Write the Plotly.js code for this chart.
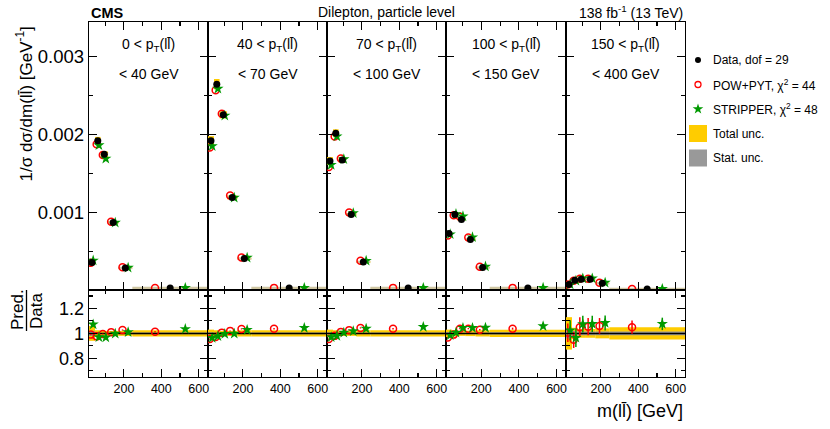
<!DOCTYPE html>
<html><head><meta charset="utf-8">
<script src="https://cdn.plot.ly/plotly-3.0.1.min.js"></script>
<style>body{margin:0;background:#fff}#plot{width:830px;height:429px}</style>
</head><body><div id="plot"></div>
<script>
// ---------------- data ----------------
const binEdges = [13, 45, 75, 115, 170, 245, 650];          // m(ll) bin edges [GeV]
const ptLow = ['0', '40', '70', '100', '150'];
const ptHigh = ['40', '70', '100', '150', '400'];
const xTickVals = [200, 400, 600];
const xMinorVals = [100, 300, 500];
const yTopTickVals = [0.001, 0.002, 0.003];
const yTopTickText = ['0.001', '0.002', '0.003'];
const yTopMinor = [0.0005, 0.0015, 0.0025];
const yRatioTickVals = [0.8, 1, 1.2];
const yRatioTickText = ['0.8', '1', '1.2'];
const yRatioMinor = [0.7, 0.9, 1.1, 1.3];

// normalised cross section per pT(ll) panel [GeV^-1]
const dataP1 = [0.000364, 0.001923, 0.001749, 0.000877, 0.000295, 0.0000385];
const dataP2 = [0.001923, 0.002646, 0.002253, 0.001197, 0.000415, 0.0000385];
const dataP3 = [0.001663, 0.002018, 0.001676, 0.000979, 0.000372, 0.0000385];
const dataP4 = [0.000736, 0.000979, 0.000915, 0.000659, 0.000300, 0.0000385];
const dataP5 = [0.000082, 0.000137, 0.000150, 0.000150, 0.0000987, 0.0000256];

// Pred./Data ratios
const powRatio = [
  [0.990, 0.976, 0.995, 1.010, 1.027, 1.013],
  [0.954, 0.970, 1.006, 1.020, 1.036, 1.038],
  [0.954, 0.980, 1.012, 1.026, 1.044, 1.038],
  [0.966, 0.990, 1.038, 1.038, 1.030, 1.038],
  [1.005, 0.948, 1.050, 1.054, 1.060, 1.050]];
const stripRatio = [
  [1.072, 0.970, 0.968, 0.998, 1.010, 1.035],
  [0.964, 0.978, 0.996, 0.998, 1.028, 1.044],
  [0.970, 0.980, 1.006, 1.018, 1.038, 1.052],
  [0.986, 1.006, 1.044, 1.044, 1.046, 1.058],
  [1.025, 0.965, 1.075, 1.076, 1.084, 1.076]];
// prediction uncertainties (relative)
const powUnc = [
  [0.005, 0.004, 0.004, 0.004, 0.005, 0.006],
  [0.005, 0.004, 0.004, 0.004, 0.005, 0.006],
  [0.005, 0.004, 0.004, 0.004, 0.005, 0.006],
  [0.006, 0.005, 0.005, 0.005, 0.006, 0.008],
  [0.075, 0.065, 0.080, 0.070, 0.063, 0.053]];
const stripUnc = [
  [0.005, 0.004, 0.004, 0.004, 0.005, 0.006],
  [0.005, 0.004, 0.004, 0.004, 0.005, 0.006],
  [0.005, 0.004, 0.004, 0.004, 0.005, 0.006],
  [0.006, 0.005, 0.005, 0.005, 0.006, 0.008],
  [0.080, 0.075, 0.067, 0.065, 0.060, 0.050]];
// data uncertainties (relative)
const totUnc = [
  [0.060, 0.025, 0.020, 0.020, 0.020, 0.025],
  [0.030, 0.025, 0.020, 0.020, 0.025, 0.025],
  [0.030, 0.025, 0.020, 0.020, 0.025, 0.025],
  [0.030, 0.025, 0.020, 0.022, 0.025, 0.030],
  [0.130, 0.045, 0.035, 0.035, 0.040, 0.050]];
const statUnc = [
  [0.020, 0.006, 0.005, 0.005, 0.006, 0.008],
  [0.008, 0.005, 0.005, 0.005, 0.006, 0.008],
  [0.008, 0.005, 0.005, 0.005, 0.006, 0.008],
  [0.010, 0.006, 0.006, 0.006, 0.007, 0.010],
  [0.040, 0.020, 0.015, 0.015, 0.015, 0.015]];

const legendLabels = ['Data, dof = 29', 'POW+PYT, \u03C7<sup>2</sup> = 44', 'STRIPPER, \u03C7<sup>2</sup> = 48', 'Total unc.', 'Stat. unc.'];

// ---------------- drawing ----------------
const dataPanels = [dataP1, dataP2, dataP3, dataP4, dataP5];
const W = 830, H = 429;
const FONT = 'Liberation Sans, Arial, Helvetica, sans-serif';
const RED = '#ff0000', GREEN = '#009900', YEL = '#ffcc00', GREY = '#999999', TAN = '#cfc6a2';
const LL = 'll\u0304';
const colPx = [89, 208, 327, 446, 566, 685];
const topDom = [1 - 290 / H, 1 - 22 / H];
const ratDom = [1 - 377 / H, 1 - 290 / H];
const id = n => (n === 1 ? '' : String(n));

const centers = binEdges.slice(0, -1).map((e, i) => (e + binEdges[i + 1]) / 2);
const widths = binEdges.slice(0, -1).map((e, i) => binEdges[i + 1] - e);
const xPow = centers.map((c, i) => c - 0.2 * widths[i]);
const xStrip = centers.map((c, i) => c + 0.2 * widths[i]);

const layout = {
  width: W, height: H, margin: {l: 0, r: 0, t: 0, b: 0},
  paper_bgcolor: '#fff', plot_bgcolor: 'rgba(0,0,0,0)',
  showlegend: false, hovermode: false,
  font: {family: FONT, color: '#000'},
  shapes: [], annotations: []
};
const traces = [];
const baseAx = {showline: true, linecolor: '#000', linewidth: 1.3, mirror: 'ticks', ticks: 'inside',
  tickcolor: '#000', tickwidth: 1.1, showgrid: false, zeroline: false, fixedrange: true};

for (let p = 0; p < 5; p++) {
  const kt = p + 1, kr = p + 6;
  const dom = [colPx[p] / W, colPx[p + 1] / W];
  layout['xaxis' + id(kt)] = Object.assign({}, baseAx, {domain: dom, range: [binEdges[0], binEdges[6]],
    anchor: 'y' + id(kt), tickmode: 'array', tickvals: xTickVals, ticklen: 8, showticklabels: false,
    minor: {tickmode: 'array', tickvals: xMinorVals, ticklen: 4, ticks: 'inside', tickcolor: '#000'}});
  layout['yaxis' + id(kt)] = Object.assign({}, baseAx, {domain: topDom, range: [0.0000128, 0.003441],
    anchor: 'x' + id(kt), tickmode: 'array', tickvals: yTopTickVals, ticktext: yTopTickText, ticklen: 8,
    showticklabels: p === 0, tickfont: {size: 18.5, family: FONT},
    minor: {tickmode: 'array', tickvals: yTopMinor, ticklen: 4, ticks: 'inside', tickcolor: '#000'}});
  layout['xaxis' + kr] = Object.assign({}, baseAx, {domain: dom, range: [binEdges[0], binEdges[6]],
    anchor: 'y' + kr, tickmode: 'array', tickvals: xTickVals, ticklen: 8, showticklabels: true,
    tickfont: {size: 12.5, family: FONT},
    minor: {tickmode: 'array', tickvals: xMinorVals, ticklen: 4, ticks: 'inside', tickcolor: '#000'}});
  layout['yaxis' + kr] = Object.assign({}, baseAx, {domain: ratDom, range: [0.65, 1.348],
    anchor: 'x' + kr, tickmode: 'array', tickvals: yRatioTickVals, ticktext: yRatioTickText, ticklen: 8,
    showticklabels: p === 0, tickfont: {size: 18, family: FONT},
    minor: {tickmode: 'array', tickvals: yRatioMinor, ticklen: 4, ticks: 'inside', tickcolor: '#000'}});

  const d = dataPanels[p];
  const xt = 'x' + id(kt), yt = 'y' + id(kt), xr = 'x' + kr, yr = 'y' + kr;

  // bands
  for (let b = 0; b < 6; b++) {
    const x0 = binEdges[b], x1 = binEdges[b + 1];
    layout.shapes.push({type: 'rect', layer: 'below', xref: xt, yref: yt, x0, x1,
      y0: d[b] * (1 - totUnc[p][b]), y1: d[b] * (1 + totUnc[p][b]), fillcolor: YEL, line: {width: 0}});
    layout.shapes.push({type: 'line', layer: 'below', xref: xt, yref: yt, x0, x1,
      y0: d[b], y1: d[b], line: {color: TAN, width: 2.5}});
    layout.shapes.push({type: 'rect', layer: 'below', xref: xr, yref: yr, x0, x1,
      y0: 1 - totUnc[p][b], y1: 1 + totUnc[p][b], fillcolor: YEL, line: {width: 0}});
    layout.shapes.push({type: 'rect', layer: 'below', xref: xr, yref: yr, x0, x1,
      y0: 1 - statUnc[p][b], y1: 1 + statUnc[p][b], fillcolor: GREY, line: {width: 0}});
  }
  layout.shapes.push({type: 'line', layer: 'below', xref: xr, yref: yr, x0: binEdges[0], x1: binEdges[6],
    y0: 1, y1: 1, line: {color: '#000', width: 1.5}});

  // top traces
  traces.push({type: 'scatter', mode: 'markers', xaxis: xt, yaxis: yt, x: xPow,
    y: d.map((v, i) => v * powRatio[p][i]),
    marker: {symbol: 'circle-open', size: 7, color: RED, line: {width: 1.5, color: RED}}});
  traces.push({type: 'scatter', mode: 'markers', xaxis: xt, yaxis: yt, x: xStrip,
    y: d.map((v, i) => v * stripRatio[p][i]),
    marker: {symbol: 'star', size: 8.5, color: GREEN, line: {width: 0}}});
  traces.push({type: 'scatter', mode: 'markers', xaxis: xt, yaxis: yt, x: centers, y: d,
    marker: {symbol: 'circle', size: 7, color: '#000'}});

  // ratio traces
  traces.push({type: 'scatter', mode: 'markers', xaxis: xr, yaxis: yr, x: xPow, y: powRatio[p],
    error_y: {type: 'data', array: powUnc[p], color: RED, thickness: 1.5, width: 0},
    marker: {symbol: 'circle-open', size: 7, color: RED, line: {width: 1.5, color: RED}}});
  traces.push({type: 'scatter', mode: 'markers', xaxis: xr, yaxis: yr, x: xStrip, y: stripRatio[p],
    error_y: {type: 'data', array: stripUnc[p], color: GREEN, thickness: 1.5, width: 0},
    marker: {symbol: 'star', size: 8.5, color: GREEN, line: {width: 0}}});

  // panel labels
  const cx = (colPx[p] + colPx[p + 1]) / 2 / W;
  layout.annotations.push({xref: 'paper', yref: 'paper', x: cx, y: 1 - 45 / H, showarrow: false,
    xanchor: 'center', yanchor: 'middle', font: {size: 14, family: FONT},
    text: ptLow[p] + ' &lt; p<sub>T</sub>(' + LL + ')'});
  layout.annotations.push({xref: 'paper', yref: 'paper', x: cx, y: 1 - 74 / H, showarrow: false,
    xanchor: 'center', yanchor: 'middle', font: {size: 14, family: FONT},
    text: '&lt; ' + ptHigh[p] + ' GeV'});
}

// overlay axis for legend symbols (pixel coordinates of the figure)
layout.xaxis11 = {domain: [0, 1], range: [0, W], visible: false, fixedrange: true, anchor: 'y11'};
layout.yaxis11 = {domain: [0, 1], range: [H, 0], visible: false, fixedrange: true, anchor: 'x11'};
const legY = [60, 84.5, 109, 133.5, 158];
const legX = 698, legTextX = 710.5;
traces.push({type: 'scatter', mode: 'markers', xaxis: 'x11', yaxis: 'y11', x: [legX], y: [legY[0]],
  marker: {symbol: 'circle', size: 6, color: '#000'}});
traces.push({type: 'scatter', mode: 'markers', xaxis: 'x11', yaxis: 'y11', x: [legX], y: [legY[1]],
  marker: {symbol: 'circle-open', size: 6, color: RED, line: {width: 1.3, color: RED}}});
traces.push({type: 'scatter', mode: 'markers', xaxis: 'x11', yaxis: 'y11', x: [legX], y: [legY[2]],
  marker: {symbol: 'star', size: 8, color: GREEN, line: {width: 0}}});
[[3, YEL], [4, GREY]].forEach(([i, c]) => {
  layout.shapes.push({type: 'rect', xref: 'paper', yref: 'paper', x0: 689 / W, x1: 707 / W,
    y0: 1 - (legY[i] + 8.5) / H, y1: 1 - (legY[i] - 8.5) / H, fillcolor: c, line: {width: 0}});
});
legendLabels.forEach((t, i) => {
  layout.annotations.push({xref: 'paper', yref: 'paper', x: legTextX / W, y: 1 - legY[i] / H,
    xanchor: 'left', yanchor: 'middle', showarrow: false, text: t, font: {size: 12, family: FONT}});
});

// header texts
layout.annotations.push({xref: 'paper', yref: 'paper', x: 89 / W, y: 1 - 13 / H, xanchor: 'left', yanchor: 'middle',
  showarrow: false, text: '<b>CMS</b>', font: {size: 14.5, family: FONT}});
layout.annotations.push({xref: 'paper', yref: 'paper', x: 386 / W, y: 1 - 12 / H, xanchor: 'center', yanchor: 'middle',
  showarrow: false, text: 'Dilepton, particle level', font: {size: 14, family: FONT}});
layout.annotations.push({xref: 'paper', yref: 'paper', x: 685 / W, y: 1 - 12 / H, xanchor: 'right', yanchor: 'middle',
  showarrow: false, text: '138 fb<sup>-1</sup> (13 TeV)', font: {size: 14, family: FONT}});
// axis titles
layout.annotations.push({xref: 'paper', yref: 'paper', x: 24 / W, y: 1 - 104.5 / H, xanchor: 'center', yanchor: 'middle',
  textangle: -90, showarrow: false, text: '1/\u03C3 d\u03C3/dm(' + LL + ') [GeV<sup>-1</sup>]', font: {size: 17, family: FONT}});
layout.annotations.push({xref: 'paper', yref: 'paper', x: 17 / W, y: 1 - 310 / H, xanchor: 'center', yanchor: 'middle',
  textangle: -90, showarrow: false, text: 'Pred.', font: {size: 17, family: FONT}});
layout.annotations.push({xref: 'paper', yref: 'paper', x: 36 / W, y: 1 - 311 / H, xanchor: 'center', yanchor: 'middle',
  textangle: -90, showarrow: false, text: 'Data', font: {size: 17, family: FONT}});
layout.shapes.push({type: 'line', xref: 'paper', yref: 'paper', x0: 26.5 / W, x1: 26.5 / W,
  y0: 1 - 290 / H, y1: 1 - 331 / H, line: {color: '#000', width: 1.3}});
layout.annotations.push({xref: 'paper', yref: 'paper', x: 685 / W, y: 1 - 411 / H, xanchor: 'right', yanchor: 'middle',
  showarrow: false, text: 'm(' + LL + ') [GeV]', font: {size: 18, family: FONT}});

Plotly.newPlot('plot', traces, layout, {staticPlot: true, displayModeBar: false});
</script></body></html>
